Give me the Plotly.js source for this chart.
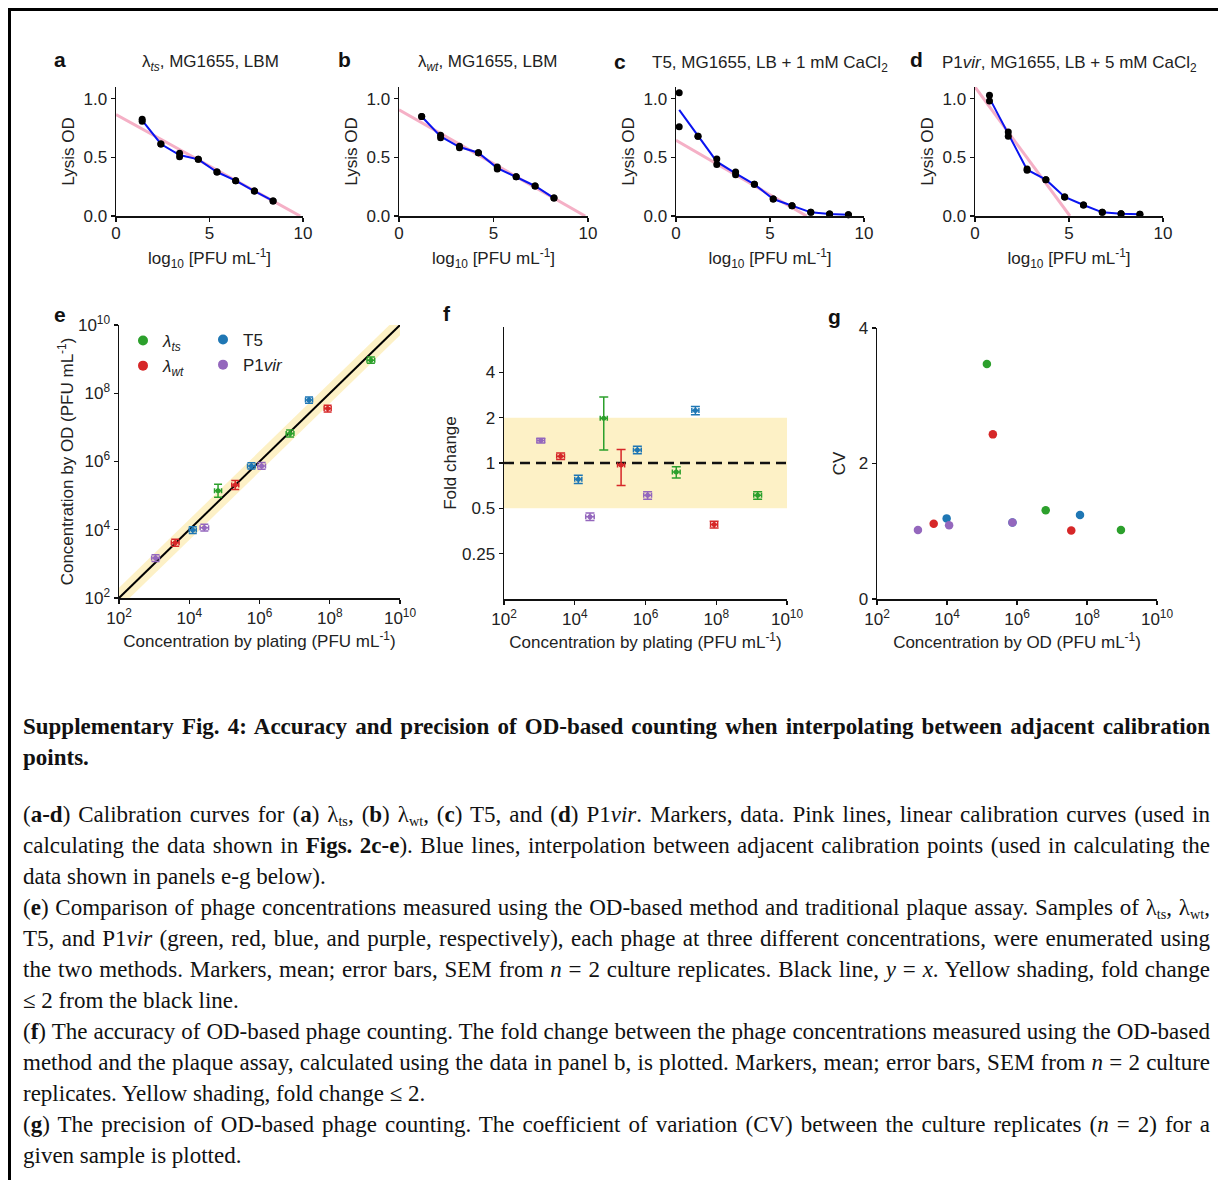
<!DOCTYPE html>
<html><head><meta charset="utf-8">
<script src="https://cdn.plot.ly/plotly-3.0.1.min.js"></script>
<style>
html,body{margin:0;padding:0;background:#fff;}
#plot{position:absolute;left:0;top:0;width:1218px;height:1180px;}
#frame{position:absolute;left:8px;top:8px;width:1210px;height:1172px;border-left:3px solid #000;border-top:3px solid #000;box-sizing:border-box;pointer-events:none;}
#cap{position:absolute;left:23px;top:711px;width:1187px;font-family:"Liberation Serif","Times New Roman",serif;font-size:23px;line-height:31px;color:#111;}
#cap div{height:31px;}
#cap .l{text-align:justify;text-align-last:justify;white-space:nowrap;}
#cap .e{text-align:left;white-space:nowrap;}
#cap .h{font-weight:bold;}
#cap .gap{height:26px;}
#cap sub{font-size:62%;line-height:0;vertical-align:baseline;position:relative;top:0.3em;}
</style></head>
<body>
<div id="plot"></div>
<div id="cap">
<div class="l h">Supplementary Fig. 4: Accuracy and precision of OD-based counting when interpolating between adjacent calibration</div>
<div class="e h">points.</div>
<div class="gap"></div>
<div class="l">(<b>a-d</b>) Calibration curves for (<b>a</b>) λ<sub>ts</sub>, (<b>b</b>) λ<sub>wt</sub>, (<b>c</b>) T5, and (<b>d</b>) P1<i>vir</i>. Markers, data. Pink lines, linear calibration curves (used in</div>
<div class="l">calculating the data shown in <b>Figs. 2c-e</b>). Blue lines, interpolation between adjacent calibration points (used in calculating the</div>
<div class="e">data shown in panels e-g below).</div>
<div class="l">(<b>e</b>) Comparison of phage concentrations measured using the OD-based method and traditional plaque assay. Samples of λ<sub>ts</sub>, λ<sub>wt</sub>,</div>
<div class="l">T5, and P1<i>vir</i> (green, red, blue, and purple, respectively), each phage at three different concentrations, were enumerated using</div>
<div class="l">the two methods. Markers, mean; error bars, SEM from <i>n</i> = 2 culture replicates. Black line, <i>y</i> = <i>x</i>. Yellow shading, fold change</div>
<div class="e">≤ 2 from the black line.</div>
<div class="l">(<b>f</b>) The accuracy of OD-based phage counting. The fold change between the phage concentrations measured using the OD-based</div>
<div class="l">method and the plaque assay, calculated using the data in panel b, is plotted. Markers, mean; error bars, SEM from <i>n</i> = 2 culture</div>
<div class="e">replicates. Yellow shading, fold change ≤ 2.</div>
<div class="l">(<b>g</b>) The precision of OD-based phage counting. The coefficient of variation (CV) between the culture replicates (<i>n</i> = 2) for a</div>
<div class="e">given sample is plotted.</div>
</div>
<div id="frame"></div>
<script>
// ---------- Panel a-d: calibration data (log10 PFU/mL, lysis OD replicates) ----------
const aX  = [1.4, 2.4, 3.4, 4.4, 5.4, 6.4, 7.4, 8.4];
const aR1 = [0.825, 0.614, 0.535, 0.483, 0.375, 0.301, 0.213, 0.128];
const aR2 = [0.807, 0.614, 0.505, 0.483, 0.375, 0.301, 0.213, 0.128];
const aPinkX = [0, 9.85], aPinkY = [0.866, 0];

const bX  = [1.2, 2.2, 3.2, 4.2, 5.2, 6.2, 7.2, 8.2];
const bR1 = [0.849, 0.688, 0.594, 0.540, 0.418, 0.335, 0.256, 0.153];
const bR2 = [0.849, 0.668, 0.582, 0.540, 0.400, 0.335, 0.256, 0.153];
const bPinkX = [0, 9.85], bPinkY = [0.906, 0];

const cX  = [0.17, 1.17, 2.17, 3.17, 4.17, 5.17, 6.17, 7.17, 8.17, 9.17];
const cR1 = [1.05, 0.68, 0.486, 0.375, 0.27, 0.145, 0.088, 0.031, 0.017, 0.011];
const cR2 = [0.76, 0.68, 0.440, 0.352, 0.27, 0.145, 0.088, 0.031, 0.017, 0.011];
const cPinkX = [0, 6.95], cPinkY = [0.645, 0];

const dX  = [0.77, 1.77, 2.77, 3.77, 4.77, 5.77, 6.77, 7.77, 8.77];
const dR1 = [1.03, 0.716, 0.40, 0.31, 0.162, 0.094, 0.031, 0.020, 0.014];
const dR2 = [0.98, 0.680, 0.39, 0.31, 0.162, 0.094, 0.031, 0.020, 0.014];
const dPinkX = [0, 5.05], dPinkY = [1.1, 0];

// ---------- Panel e-g: phage samples (log10 PFU/mL) ----------
const phages = ['λts', 'λwt', 'T5', 'P1vir'];
const phageColors = ['#2ca02c', '#d62728', '#1f77b4', '#9467bd'];
// plating concentration (log10) and its SEM (dex)
const platG = [4.82, 6.87, 9.17], platGErr = [0.10, 0.11, 0.11];
const platR = [3.60, 5.31, 7.94], platRErr = [0.11, 0.10, 0.10];
const platB = [4.10, 5.77, 7.41], platBErr = [0.10, 0.11, 0.10];
const platP = [3.04, 4.43, 6.06], platPErr = [0.11, 0.12, 0.11];
// OD-based concentration (log10) and its SEM (dex)
const odG = [5.14, 6.82, 8.97], odGErr = [0.19, 0.10, 0.09];
const odR = [3.62, 5.31, 7.55], odRErr = [0.10, 0.13, 0.10];
const odB = [3.99, 5.87, 7.80], odBErr = [0.10, 0.09, 0.09];
const odP = [3.17, 4.06, 5.87], odPErr = [0.10, 0.10, 0.10];
// fold change (OD / plating) and SEM
const foldG = [1.98, 0.87, 0.61], foldGErr = [0.76, 0.075, 0.035];
const foldR = [1.11, 0.97, 0.39], foldRErr = [0.055, 0.26, 0.02];
const foldB = [0.78, 1.22, 2.23], foldBErr = [0.05, 0.07, 0.14];
const foldP = [1.41, 0.44, 0.61], foldPErr = [0.05, 0.025, 0.035];
// coefficient of variation
const cvG = [3.47, 1.31, 1.02];
const cvR = [1.11, 2.43, 1.01];
const cvB = [1.19, 1.13, 1.24];
const cvP = [1.02, 1.09, 1.13];

const logTickVals = [1e2, 1e4, 1e6, 1e8, 1e10];
const logTickText = ['10<sup>2</sup>', '10<sup>4</sup>', '10<sup>6</sup>', '10<sup>8</sup>', '10<sup>10</sup>'];
const foldTickVals = [0.25, 0.5, 1, 2, 4];
const foldTickText = ['0.25', '0.5', '1', '2', '4'];

// ---------- helpers ----------
const W = 1218, H = 1180;
const F = '"Liberation Sans", Arial, sans-serif';
const FS = 17;
const dxp = (a, b) => [a / W, b / W];
const dyp = (t, b) => [1 - b / H, 1 - t / H];
const pw = v => Math.pow(10, v);
const lin = arr => arr.map(pw);
const errPlus = (l, e) => l.map((v, i) => pw(v + e[i]) - pw(v));
const errMinus = (l, e) => l.map((v, i) => pw(v) - pw(v - e[i]));
const mean = (r1, r2) => r1.map((v, i) => (v + r2[i]) / 2);

function ax(extra) {
  return Object.assign({
    showline: true, linecolor: '#111', linewidth: 1.5, ticks: 'outside', ticklen: 4,
    tickwidth: 1.3, tickcolor: '#111', showgrid: false, zeroline: false,
    tickfont: {family: F, size: FS, color: '#222'}, fixedrange: true
  }, extra);
}
const titleFont = {family: F, size: FS, color: '#222'};

const traces = [];
const calib = [
  [aX, aR1, aR2, aPinkX, aPinkY, 'x', 'y'],
  [bX, bR1, bR2, bPinkX, bPinkY, 'x2', 'y2'],
  [cX, cR1, cR2, cPinkX, cPinkY, 'x3', 'y3'],
  [dX, dR1, dR2, dPinkX, dPinkY, 'x4', 'y4']
];
calib.forEach(([x, r1, r2, px, py, xa, ya]) => {
  traces.push({x: px, y: py, xaxis: xa, yaxis: ya, mode: 'lines', line: {color: '#f5b0c6', width: 3}, showlegend: false, hoverinfo: 'skip'});
  traces.push({x: x, y: mean(r1, r2), xaxis: xa, yaxis: ya, mode: 'lines', line: {color: '#0a14f0', width: 2}, showlegend: false});
  traces.push({x: x.concat(x), y: r1.concat(r2), xaxis: xa, yaxis: ya, mode: 'markers', marker: {color: '#000', size: 7}, showlegend: false, cliponaxis: false});
});

// Panel e
traces.push({x: [1e2, 1e10, 1e10, 1e2], y: [2e2, 2e10, 5e9, 50], xaxis: 'x5', yaxis: 'y5', mode: 'lines', fill: 'toself', fillcolor: '#fdf1c6', line: {width: 0, color: 'rgba(0,0,0,0)'}, showlegend: false, hoverinfo: 'skip'});
traces.push({x: [1e2, 1e10], y: [1e2, 1e10], xaxis: 'x5', yaxis: 'y5', mode: 'lines', line: {color: '#000', width: 2}, showlegend: false, hoverinfo: 'skip'});

const groups = [
  [platG, platGErr, odG, odGErr, foldG, foldGErr, cvG],
  [platR, platRErr, odR, odRErr, foldR, foldRErr, cvR],
  [platB, platBErr, odB, odBErr, foldB, foldBErr, cvB],
  [platP, platPErr, odP, odPErr, foldP, foldPErr, cvP]
];
groups.forEach(([pl, ple, od, ode], k) => {
  const c = phageColors[k];
  traces.push({x: lin(pl), y: lin(od), xaxis: 'x5', yaxis: 'y5', mode: 'markers', marker: {color: c, size: 5},
    error_x: {type: 'data', symmetric: false, array: errPlus(pl, ple), arrayminus: errMinus(pl, ple), color: c, thickness: 1.5, width: 2.5},
    error_y: {type: 'data', symmetric: false, array: errPlus(od, ode), arrayminus: errMinus(od, ode), color: c, thickness: 1.5, width: 4}, showlegend: false});
});

// legend entries (panel e)
const legendOrder = [[0, 'legend'], [1, 'legend'], [2, 'legend2'], [3, 'legend2']];
const legendNames = ['<i>λ<sub>ts</sub></i>', '<i>λ<sub>wt</sub></i>', 'T5', 'P1<i>vir</i>'];
legendOrder.forEach(([k, lg]) => {
  traces.push({x: [null], y: [null], xaxis: 'x5', yaxis: 'y5', mode: 'markers', name: legendNames[k], legend: lg,
    marker: {color: phageColors[k], size: 10}, showlegend: true});
});

// Panel f
traces.push({x: [1e2, 1e10, 1e10, 1e2], y: [0.5, 0.5, 2, 2], xaxis: 'x6', yaxis: 'y6', mode: 'lines', fill: 'toself', fillcolor: '#fdf1c6', line: {width: 0, color: 'rgba(0,0,0,0)'}, showlegend: false, hoverinfo: 'skip'});
traces.push({x: [1e2, 1e10], y: [1, 1], xaxis: 'x6', yaxis: 'y6', mode: 'lines', line: {color: '#111', width: 2.4, dash: '10px,6px'}, showlegend: false, hoverinfo: 'skip'});
groups.forEach(([pl, ple, od, ode, fo, foe], k) => {
  const c = phageColors[k];
  traces.push({x: lin(pl), y: fo, xaxis: 'x6', yaxis: 'y6', mode: 'markers', marker: {color: c, size: 5},
    error_x: {type: 'data', symmetric: false, array: errPlus(pl, ple), arrayminus: errMinus(pl, ple), color: c, thickness: 1.5, width: 2.5},
    error_y: {type: 'data', array: foe, color: c, thickness: 1.5, width: 4.5}, showlegend: false});
});

// Panel g
groups.forEach(([pl, ple, od, ode, fo, foe, cv], k) => {
  traces.push({x: lin(od), y: cv, xaxis: 'x7', yaxis: 'y7', mode: 'markers', marker: {color: phageColors[k], size: 8.5}, showlegend: false});
});

const lysisTicks = {tickvals: [0, 0.5, 1], ticktext: ['0.0', '0.5', '1.0'], range: [0, 1.1]};
const xLog10 = 'log<sub>10</sub> [PFU mL<sup>-1</sup>]';
const calX = (dom, anchor) => ax({domain: dom, range: [0, 10], tickvals: [0, 5, 10], anchor: anchor, ticklabelstandoff: -3,
  title: {text: xLog10, font: titleFont, standoff: 10}});
const calY = anchor => ax(Object.assign({domain: dyp(87, 216), anchor: anchor, title: {text: 'Lysis OD', font: titleFont, standoff: 4}}, lysisTicks));
const layout = {
  width: W, height: H, margin: {l: 0, r: 0, t: 0, b: 0}, paper_bgcolor: '#fff', plot_bgcolor: 'rgba(0,0,0,0)',
  font: {family: F, color: '#222'},
  xaxis:  calX(dxp(116, 303), 'y'),  yaxis:  calY('x'),
  xaxis2: calX(dxp(399, 588), 'y2'), yaxis2: calY('x2'),
  xaxis3: calX(dxp(676, 864), 'y3'), yaxis3: calY('x3'),
  xaxis4: calX(dxp(975, 1163), 'y4'), yaxis4: calY('x4'),
  xaxis5: ax({domain: dxp(119, 400), type: 'log', range: [2, 10], tickvals: logTickVals, ticktext: logTickText, anchor: 'y5',
    title: {text: 'Concentration by plating (PFU mL<sup>-1</sup>)', font: titleFont, standoff: 8}}),
  yaxis5: ax({domain: dyp(325, 598), type: 'log', range: [2, 10], tickvals: logTickVals, ticktext: logTickText, anchor: 'x5',
    title: {text: 'Concentration by OD (PFU mL<sup>-1</sup>)', font: titleFont, standoff: 0}}),
  xaxis6: ax({domain: dxp(504, 787), type: 'log', range: [2, 10], tickvals: logTickVals, ticktext: logTickText, anchor: 'y6',
    title: {text: 'Concentration by plating (PFU mL<sup>-1</sup>)', font: titleFont, standoff: 8}}),
  yaxis6: ax({domain: dyp(327, 599), type: 'log', range: [Math.log10(0.125), Math.log10(8)], tickvals: foldTickVals, ticktext: foldTickText, anchor: 'x6',
    title: {text: 'Fold change', font: titleFont, standoff: 1}}),
  xaxis7: ax({domain: dxp(877, 1157), type: 'log', range: [2, 10], tickvals: logTickVals, ticktext: logTickText, anchor: 'y7',
    title: {text: 'Concentration by OD (PFU mL<sup>-1</sup>)', font: titleFont, standoff: 8}}),
  yaxis7: ax({domain: dyp(328, 599), range: [0, 4], tickvals: [0, 2, 4], anchor: 'x7',
    title: {text: 'CV', font: titleFont, standoff: 8}}),
  legend:  {x: 123 / W, y: 1 - 323 / H, xanchor: 'left', yanchor: 'top', bgcolor: 'rgba(0,0,0,0)', font: {family: F, size: FS, color: '#222'}},
  legend2: {x: 203 / W, y: 1 - 322 / H, xanchor: 'left', yanchor: 'top', bgcolor: 'rgba(0,0,0,0)', font: {family: F, size: FS, color: '#222'}},
  annotations: []
};
const titles = [
  ['λ<sub><i>ts</i></sub>, MG1655, LBM', 210, 63],
  ['λ<sub><i>wt</i></sub>, MG1655, LBM', 487, 63],
  ['T5, MG1655, LB + 1 mM CaCl<sub>2</sub>', 770, 64],
  ['P1<i>vir</i>, MG1655, LB + 5 mM CaCl<sub>2</sub>', 1069, 64]
];
titles.forEach(([t, x, y]) => layout.annotations.push({text: t, xref: 'paper', yref: 'paper', x: x / W, y: 1 - y / H, showarrow: false, xanchor: 'center', yanchor: 'middle', font: {family: F, size: FS, color: '#222'}}));
const letters = [['a', 60, 60], ['b', 344, 60], ['c', 620, 62], ['d', 916, 60], ['e', 60, 315], ['f', 447, 313], ['g', 834, 316]];
letters.forEach(([t, x, y]) => layout.annotations.push({text: '<b>' + t + '</b>', xref: 'paper', yref: 'paper', x: x / W, y: 1 - y / H, showarrow: false, xanchor: 'center', yanchor: 'middle', font: {family: F, size: 21, color: '#111'}}));

Plotly.newPlot('plot', traces, layout, {staticPlot: true, displayModeBar: false});
</script>
</body></html>
